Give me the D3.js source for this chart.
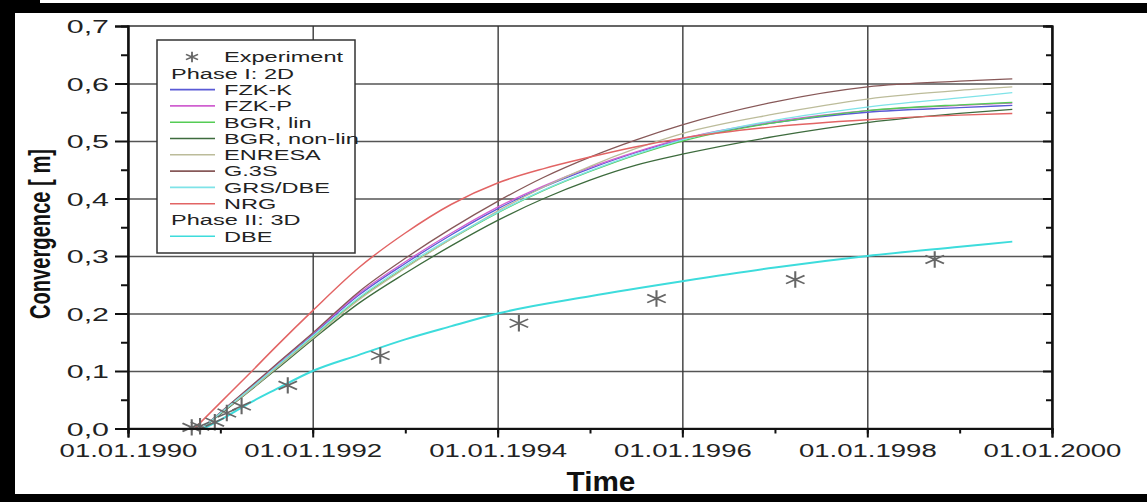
<!DOCTYPE html>
<html>
<head>
<meta charset="utf-8">
<script src="https://cdn.jsdelivr.net/npm/d3@7"></script>
<style>
  body { margin: 0; background: #fff; }
  svg { display: block; }
  text { font-family: "Liberation Sans", Arial, sans-serif; fill: #222; }
</style>
</head>
<body>
<div id="chart"></div>
<script>
// experiment (decimal years / metres)
const expYears = [1990.69, 1990.78, 1990.94, 1991.07, 1991.23, 1991.73, 1992.73, 1994.23, 1995.72, 1997.22, 1998.73];
const expValues = [0.002, 0.004, 0.011, 0.027, 0.039, 0.075, 0.127, 0.183, 0.226, 0.259, 0.294];

// phase I models
const modelYears = [1990.8, 1991, 1991.3, 1991.6, 1992, 1992.5, 1993, 1993.5, 1994, 1994.5, 1995, 1995.5, 1996, 1997, 1998, 1999, 1999.57];
const fzkK = [0, 0.027, 0.067, 0.108, 0.163, 0.232, 0.287, 0.337, 0.382, 0.42, 0.452, 0.48, 0.503, 0.532, 0.55, 0.558, 0.562];
const fzkP = [0, 0.028, 0.069, 0.11, 0.165, 0.235, 0.29, 0.34, 0.385, 0.422, 0.454, 0.481, 0.504, 0.534, 0.553, 0.562, 0.566];
const bgrLin = [0, 0.026, 0.065, 0.105, 0.159, 0.226, 0.28, 0.33, 0.375, 0.414, 0.447, 0.476, 0.5, 0.532, 0.553, 0.563, 0.567];
const bgrNonLin = [0, 0.025, 0.063, 0.102, 0.155, 0.218, 0.27, 0.318, 0.362, 0.4, 0.432, 0.458, 0.477, 0.508, 0.532, 0.548, 0.555];
const enresa = [0, 0.026, 0.064, 0.104, 0.157, 0.224, 0.279, 0.33, 0.378, 0.42, 0.456, 0.487, 0.513, 0.547, 0.573, 0.588, 0.594];
const g3s = [0, 0.028, 0.069, 0.111, 0.166, 0.238, 0.296, 0.348, 0.395, 0.437, 0.472, 0.502, 0.528, 0.568, 0.594, 0.604, 0.608];
const grsDbe = [0, 0.027, 0.066, 0.107, 0.161, 0.228, 0.283, 0.332, 0.376, 0.415, 0.448, 0.477, 0.502, 0.536, 0.559, 0.575, 0.584];

const nrgYears = [1990.72, 1991, 1991.3, 1991.6, 1992, 1992.5, 1993, 1993.5, 1994, 1994.5, 1995, 1995.5, 1996, 1997, 1998, 1999, 1999.57];
const nrg = [0, 0.045, 0.093, 0.142, 0.205, 0.28, 0.34, 0.39, 0.427, 0.452, 0.472, 0.49, 0.505, 0.525, 0.537, 0.545, 0.548];

// phase II model
const dbeYears = [1990.82, 1991, 1991.3, 1991.6, 1992, 1992.5, 1993, 1993.5, 1994, 1995, 1996, 1997, 1998, 1999, 1999.57];
const dbe = [0, 0.015, 0.043, 0.068, 0.1, 0.128, 0.155, 0.178, 0.2, 0.23, 0.256, 0.28, 0.3, 0.316, 0.325];

const yTicks = [0, 0.1, 0.2, 0.3, 0.4, 0.5, 0.6, 0.7];

const width = 1147;
const height = 502;
const plotL = 128, plotR = 1052, plotT = 26, plotB = 428.5;

// decimal year -> Date
const toDate = yr => {
  const yy = Math.floor(yr);
  const start = new Date(yy, 0, 1), end = new Date(yy + 1, 0, 1);
  return new Date(+start + (yr - yy) * (end - start));
};

const series = [
  { name: "FZK-K", years: modelYears, values: fzkK, color: "#5a5ad6", w: 1.3 },
  { name: "FZK-P", years: modelYears, values: fzkP, color: "#d060d0", w: 1.3 },
  { name: "BGR, lin", years: modelYears, values: bgrLin, color: "#55cc55", w: 1.3 },
  { name: "BGR, non-lin", years: modelYears, values: bgrNonLin, color: "#3d6b3d", w: 1.3 },
  { name: "ENRESA", years: modelYears, values: enresa, color: "#bcbc9a", w: 1.3 },
  { name: "G.3S", years: modelYears, values: g3s, color: "#875858", w: 1.3 },
  { name: "GRS/DBE", years: modelYears, values: grsDbe, color: "#7fe3e8", w: 1.3 },
  { name: "NRG", years: nrgYears, values: nrg, color: "#e26464", w: 1.5 },
  { name: "DBE", years: dbeYears, values: dbe, color: "#3ddcdc", w: 2 }
];

const svg = d3.select("#chart").append("svg")
  .attr("width", width)
  .attr("height", height);

svg.append("rect").attr("width", width).attr("height", height).attr("fill", "#fff");

const x = d3.scaleTime()
  .domain([new Date(1990, 0, 1), new Date(2000, 0, 1)])
  .range([plotL, plotR]);

const y = d3.scaleLinear()
  .domain([0, 0.7])
  .range([plotB, plotT]);

// grid
svg.append("g")
  .attr("transform", `translate(${plotL},0)`)
  .call(d3.axisLeft(y).tickValues(yTicks.slice(1, -1)).tickSize(-(plotR - plotL)).tickFormat(""))
  .call(g => g.select(".domain").remove())
  .call(g => g.selectAll("line").attr("stroke", "#555").attr("stroke-width", 1.4));

svg.append("g")
  .attr("transform", `translate(0,${plotB})`)
  .call(d3.axisBottom(x).ticks(d3.timeYear.every(2)).tickSize(-(plotB - plotT)).tickFormat(""))
  .call(g => g.select(".domain").remove())
  .call(g => g.selectAll(".tick").filter(d => d.getFullYear() === 1990 || d.getFullYear() === 2000).remove())
  .call(g => g.selectAll("line").attr("stroke", "#3a3a3a").attr("stroke-width", 1.4));

// curves
const line = d3.line()
  .x(d => x(toDate(d[0])))
  .y(d => y(d[1]))
  .curve(d3.curveMonotoneX);

svg.append("g")
  .selectAll("path")
  .data(series)
  .join("path")
  .attr("d", s => line(s.years.map((yr, i) => [yr, s.values[i]])))
  .attr("fill", "none")
  .attr("stroke", s => s.color)
  .attr("stroke-width", s => s.w);

// experiment points
const star = d3.symbol(d3.symbolAsterisk, 190);
svg.append("g")
  .selectAll("path")
  .data(expYears.map((yr, i) => [yr, expValues[i]]))
  .join("path")
  .attr("d", star)
  .attr("transform", d => `translate(${x(toDate(d[0]))},${y(d[1])}) scale(1.3,1)`)
  .attr("fill", "none")
  .attr("stroke", "#666")
  .attr("stroke-width", 1.6);

// frame
svg.append("rect")
  .attr("x", plotL).attr("y", plotT)
  .attr("width", plotR - plotL).attr("height", plotB - plotT)
  .attr("fill", "none").attr("stroke", "#333").attr("stroke-width", 1.5);

// axes
const yLeft = svg.append("g")
  .attr("transform", `translate(${plotL},0)`)
  .call(d3.axisLeft(y).tickValues(yTicks).tickSize(13).tickFormat(d => d.toFixed(1).replace(".", ",")));
yLeft.selectAll("text")
  .attr("x", 0).attr("dy", null)
  .attr("transform", "translate(-19,0) scale(1.6,1)")
  .attr("dominant-baseline", "central")
  .style("font-size", "19px");

svg.append("g")
  .attr("transform", `translate(${plotL},0)`)
  .call(d3.axisLeft(y).tickValues(d3.range(0.05, 0.7, 0.1)).tickSize(7).tickFormat(""));

svg.append("g")
  .attr("transform", `translate(${plotR},0)`)
  .call(d3.axisLeft(y).tickValues(yTicks).tickSize(9).tickFormat(""));
svg.append("g")
  .attr("transform", `translate(${plotR},0)`)
  .call(d3.axisLeft(y).tickValues(d3.range(0.05, 0.7, 0.1)).tickSize(6).tickFormat(""));

const xAxis = svg.append("g")
  .attr("transform", `translate(0,${plotB})`)
  .call(d3.axisBottom(x).ticks(d3.timeYear.every(2)).tickSize(9).tickFormat(d3.timeFormat("%d.%m.%Y")));
xAxis.selectAll("text")
  .attr("y", 0).attr("dy", null)
  .attr("transform", "translate(0,28) scale(1.45,1)")
  .style("font-size", "19px");

svg.append("g")
  .attr("transform", `translate(0,${plotB})`)
  .call(d3.axisBottom(x).ticks(d3.timeYear.every(1)).tickSize(5).tickFormat(""));

svg.selectAll(".domain").attr("stroke", "#111").attr("stroke-width", 2);
svg.selectAll(".tick line").filter(function () { return !this.getAttribute("stroke-width"); })
  .attr("stroke", "#111").attr("stroke-width", 2);

// axis titles
svg.append("text")
  .attr("transform", "translate(50,234) rotate(-90)")
  .attr("text-anchor", "middle")
  .attr("textLength", 170)
  .attr("lengthAdjust", "spacingAndGlyphs")
  .style("font-size", "30px")
  .style("font-weight", "bold")
  .style("fill", "#111")
  .text("Convergence  [ m]");

svg.append("text")
  .attr("transform", "translate(601,491) scale(1.1,1)")
  .attr("text-anchor", "middle")
  .style("font-size", "27px")
  .style("font-weight", "bold")
  .style("fill", "#111")
  .text("Time");

// legend
const legend = svg.append("g");
legend.append("rect")
  .attr("x", 157).attr("y", 40).attr("width", 198).attr("height", 213)
  .attr("fill", "#fff").attr("stroke", "#333").attr("stroke-width", 1.5);

const rowH = 16.3;
const rows = [
  { label: "Experiment", kind: "star" },
  { label: "Phase I: 2D", kind: "head" },
  ...series.slice(0, 8).map(s => ({ label: s.name, kind: "line", color: s.color })),
  { label: "Phase II: 3D", kind: "head" },
  { label: "DBE", kind: "line", color: series[8].color }
];

rows.forEach((r, i) => {
  const cy = 57 + i * rowH;
  if (r.kind === "star") {
    legend.append("path")
      .attr("d", d3.symbol(d3.symbolAsterisk, 80)())
      .attr("transform", `translate(192,${cy}) scale(1.3,1)`)
      .attr("fill", "none").attr("stroke", "#666").attr("stroke-width", 1.4);
  } else if (r.kind === "line") {
    legend.append("line")
      .attr("x1", 170).attr("x2", 215).attr("y1", cy).attr("y2", cy)
      .attr("stroke", r.color).attr("stroke-width", 1.6);
  }
  legend.append("text")
    .attr("transform", `translate(${r.kind === "head" ? 171 : 224},${cy}) scale(1.57,1)`)
    .attr("dominant-baseline", "central")
    .style("font-size", "15px")
    .text(r.label);
});

// black picture border
svg.append("rect").attr("x", 0).attr("y", 0).attr("width", 15).attr("height", height).attr("fill", "#000");
svg.append("rect").attr("x", 0).attr("y", 3).attr("width", width).attr("height", 10).attr("fill", "#000");
svg.append("rect").attr("x", 0).attr("y", 0).attr("width", 40).attr("height", 13).attr("fill", "#000");
svg.append("rect").attr("x", 0).attr("y", 494).attr("width", width).attr("height", 8).attr("fill", "#000");
</script>
</body>
</html>
